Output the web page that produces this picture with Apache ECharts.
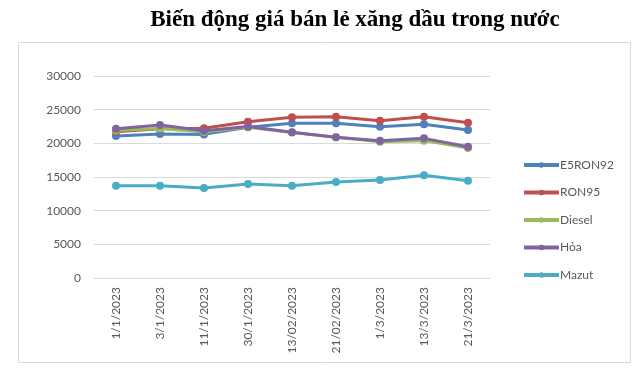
<!DOCTYPE html>
<html><head><meta charset="utf-8">
<script src="https://cdn.jsdelivr.net/npm/echarts@6/dist/echarts.min.js"></script>
<style>html,body{margin:0;padding:0;background:#fff}#c{width:644px;height:379px}</style>
</head><body><div id="c"></div>
<script>
const titleText = 'Biến động giá bán lẻ xăng dầu trong nước';
const categories = ['1/1/2023','3/1/2023','11/1/2023','30/1/2023','13/02/2023','21/02/2023','1/3/2023','13/3/2023','21/3/2023'];
const e5ron92 = [21090, 21380, 21330, 22380, 22970, 22970, 22470, 22820, 21980];
const ron95   = [21730, 22160, 22230, 23220, 23860, 23960, 23370, 23960, 23070];
const diesel  = [21900, 22200, 21700, 22400, 21600, 20900, 20250, 20400, 19300];
const hoa     = [22180, 22720, 21880, 22500, 21630, 20890, 20400, 20740, 19500];
const mazut   = [13710, 13710, 13370, 13960, 13710, 14260, 14550, 15250, 14450];
const yTicks  = [0, 5000, 10000, 15000, 20000, 25000, 30000];

const names = ['E5RON92','RON95','Diesel','Hỏa','Mazut'];
const datas = [e5ron92, ron95, diesel, hoa, mazut];
const colors = ['#4F81BD','#C0504D','#9BBB59','#8064A2','#4BACC6'];

const chart = echarts.init(document.getElementById('c'));
chart.setOption({
  animation: false,
  title: {
    text: titleText, left: 350, textAlign: 'center', top: 4,
    textStyle: {fontFamily: 'Liberation Serif', fontWeight: 'bold', fontSize: 23, color: '#000'}
  },
  graphic: [{
    type: 'rect', left: 16, top: 40, shape: {width: 612, height: 320},
    style: {fill: 'none', stroke: '#D9D9D9', lineWidth: 1}, z: -1
  }],
  legend: {
    orient: 'vertical', left: 517, top: 154, itemWidth: 35, itemHeight: 7, itemGap: 15.5,
    data: names, lineStyle: {width: 4},
    textStyle: {fontFamily: 'Lato', fontSize: 12, color: '#595959', padding: [0,0,0,-4]}
  },
  grid: {left: 94, right: 154, top: 76, bottom: 101},
  xAxis: {
    type: 'category', data: categories, boundaryGap: true,
    axisLine: {show: true, lineStyle: {color: '#D9D9D9'}},
    axisTick: {show: false},
    axisLabel: {rotate: 90, margin: 9, fontFamily: 'Lato', fontSize: 12, color: '#595959'}
  },
  yAxis: {
    type: 'value', min: yTicks[0], max: yTicks[yTicks.length-1], interval: 5000,
    axisLine: {show: false}, axisTick: {show: false},
    splitLine: {lineStyle: {color: '#D9D9D9'}},
    axisLabel: {margin: 13, fontFamily: 'Lato', fontSize: 12, color: '#595959', formatter: v => String(v)}
  },
  series: names.map((n, i) => ({
    name: n, type: 'line', data: datas[i],
    symbol: 'circle', symbolSize: 8,
    lineStyle: {width: 3, color: colors[i]},
    itemStyle: {color: colors[i]}
  }))
});
</script></body></html>
